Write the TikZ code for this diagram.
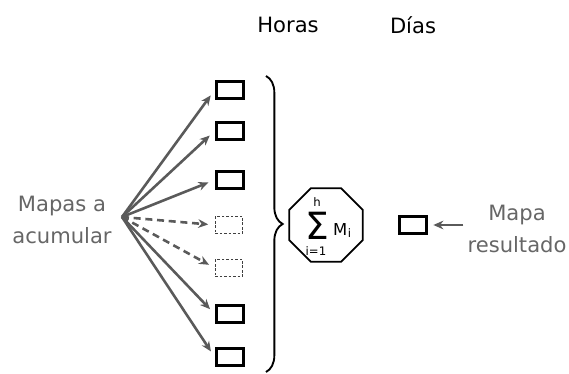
\documentclass[tikz,border=0pt]{standalone}
\usepackage{fontspec}
\setmainfont{DejaVu Sans}
\usepackage{tikz}
\usetikzlibrary{arrows.meta,positioning,shapes.geometric,decorations.pathreplacing}
\definecolor{flechagris}{HTML}{5A5A5A}
\definecolor{textogris}{HTML}{666666}
\tikzset{
  mapbox/.style={draw=black,line width=2.9pt,minimum width=0.82cm,minimum height=0.5cm,inner sep=0pt},
  mapdash/.style={draw=black!75,dash pattern=on 2.2pt off 1.6pt,line width=0.8pt,minimum width=0.82cm,minimum height=0.5cm,inner sep=0pt},
  octo/.style={draw=black,line width=1.5pt,regular polygon,regular polygon sides=8,minimum size=2.38cm,inner sep=0pt},
  flecha/.style={-{Stealth[length=3mm,width=2.6mm]},line width=2.2pt,draw=flechagris,shorten >=0.2cm},
  flechad/.style={flecha,dash pattern=on 6pt off 4pt},
  rotulo/.style={text=textogris,align=center},
  llave/.style={decorate,decoration={brace,amplitude=0.5cm},line width=1.6pt},
  sumtxt/.style={inner sep=0pt,anchor=base}
}
\begin{document}
\begin{tikzpicture}[x=0.03cm,y=-0.03cm,font=\fontsize{18}{27}\selectfont]
  \useasboundingbox (0,0) rectangle (569,374);
  % column titles
  \node (horas) at (288,25) {Horas};
  \node (dias) at (413,25) {Días};
  % maps to accumulate
  \node[mapbox] (m1) at (230,90) {};
  \node[mapbox] (m2) at (230,131) {};
  \node[mapbox] (m3) at (230,180) {};
  \node[mapdash] (m4) at (229,225) {};
  \node[mapdash] (m5) at (229,268) {};
  \node[mapbox] (m6) at (230,314) {};
  \node[mapbox] (m7) at (230,357) {};
  \node[rotulo] (acum) at (62,220) {Mapas a\\acumular};
  \coordinate (src) at (122,217);
  \foreach \m in {m1,m2,m3,m6,m7}
    \draw[flecha] (src) -- (\m.west);
  \foreach \m in {m4,m5}
    \draw[flechad] (src) -- (\m.west);
  % brace and sum
  \coordinate (llsup) at (266,76);
  \coordinate (llinf) at (266,372);
  \draw[llave] (llsup) -- (llinf);
  \node[octo] (suma) at (326,225) {};
  \node[sumtxt,font=\fontsize{32}{32}\selectfont,text height=0.73em,text depth=0pt] (sigma) at (317,240) {Σ};
  \node[sumtxt,font=\fontsize{10}{10}\selectfont,text depth=0pt] (hsup) at (317,207) {h};
  \node[sumtxt,font=\fontsize{10}{10}\selectfont,text height=0.73em] (iinf) at (316,255) {i=1};
  \node[sumtxt,anchor=base west,font=\fontsize{14}{14}\selectfont] (mm) at (333,235) {M};
  \node[sumtxt,anchor=base west,font=\fontsize{10}{10}\selectfont] (msub) at (mm.base east) [yshift=-2pt] {i};
  % result
  \node[mapbox] (res) at (413,225) {};
  \node[rotulo] (resl) at (517,229) {Mapa\\resultado};
  \draw[flecha,shorten >=0.15cm] (resl.west |- res.east) -- (res.east);
\end{tikzpicture}
\end{document}
